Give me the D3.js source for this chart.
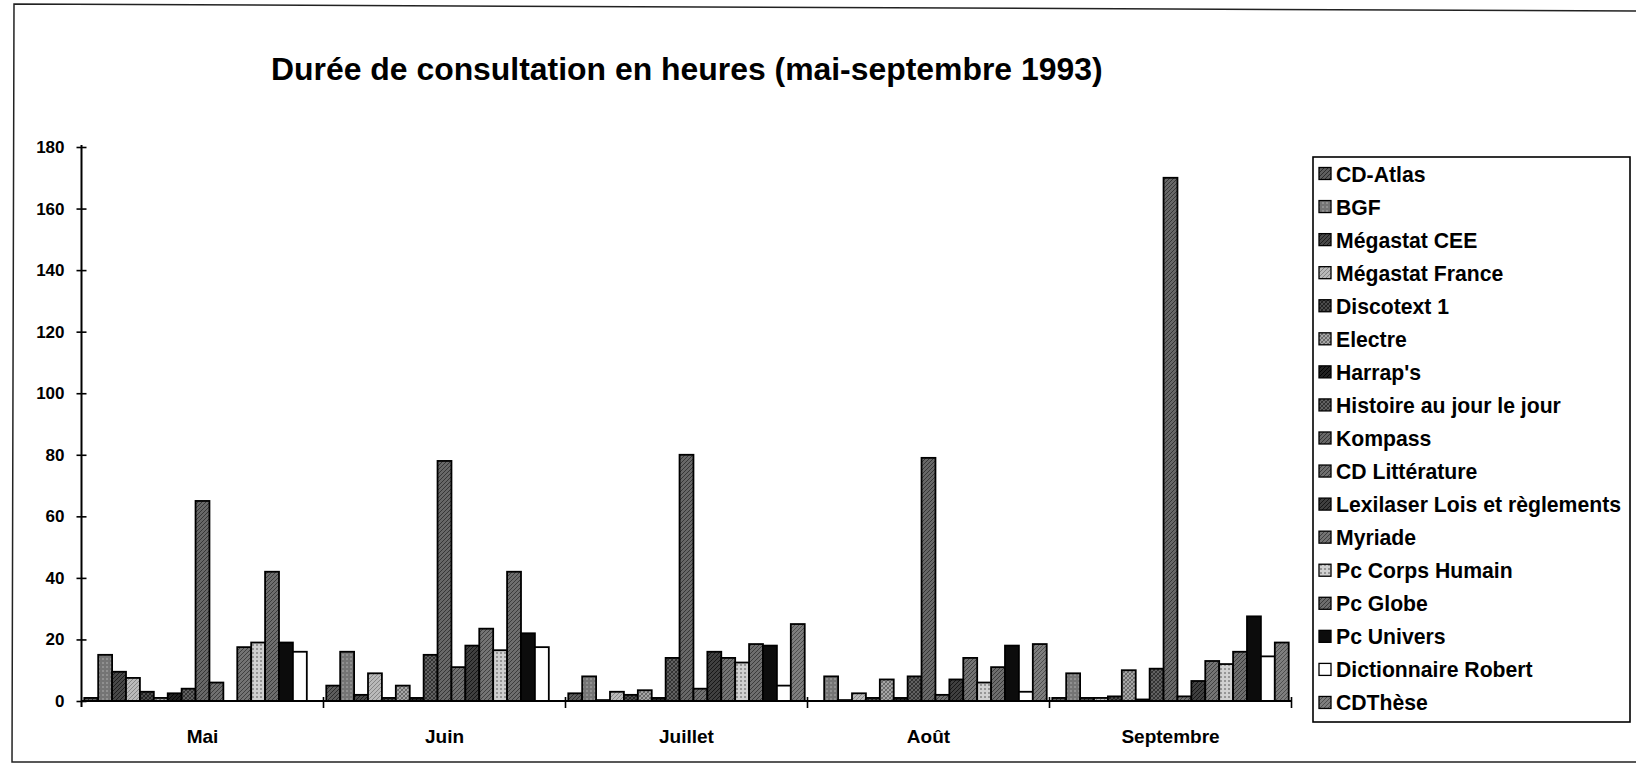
<!DOCTYPE html>
<html><head><meta charset="utf-8">
<script src="https://cdn.jsdelivr.net/npm/d3@7"></script>
<style>
body{margin:0;background:#fff}
svg{display:block}
text{font-family:"Liberation Sans",Arial,sans-serif;font-weight:bold;fill:#000}
</style>
</head><body>
<svg id="c" width="1636" height="765"></svg>
<script>
// ---------- data ----------
const title = "Durée de consultation en heures (mai-septembre 1993)";
const months = ["Mai", "Juin", "Juillet", "Août", "Septembre"];
const seriesNames = ["CD-Atlas", "BGF", "Mégastat CEE", "Mégastat France", "Discotext 1",
  "Electre", "Harrap's", "Histoire au jour le jour", "Kompass", "CD Littérature",
  "Lexilaser Lois et règlements", "Myriade", "Pc Corps Humain", "Pc Globe", "Pc Univers",
  "Dictionnaire Robert", "CDThèse"];
const cdAtlas        = [1, 5, 2.5, 0, 1];
const bgf            = [15, 16, 8, 8, 9];
const megastatCEE    = [9.5, 2, 0.3, 0.3, 1];
const megastatFrance = [7.5, 9, 3, 2.5, 1];
const discotext1     = [3, 1, 2, 1, 1.5];
const electre        = [1, 5, 3.5, 7, 10];
const harraps        = [2.5, 1, 1, 1, 0.5];
const histoire       = [4, 15, 14, 8, 10.5];
const kompass        = [65, 78, 80, 79, 170];
const cdLitterature  = [6, 11, 4, 2, 1.5];
const lexilaser      = [0, 18, 16, 7, 6.5];
const myriade        = [17.5, 23.5, 14, 14, 13];
const pcCorpsHumain  = [19, 16.5, 12.5, 6, 12];
const pcGlobe        = [42, 42, 18.5, 11, 16];
const pcUnivers      = [19, 22, 18, 18, 27.5];
const dictRobert     = [16, 17.5, 5, 3, 14.5];
const cdThese        = [0, 0, 25, 18.5, 19];
const seriesValues = [cdAtlas, bgf, megastatCEE, megastatFrance, discotext1, electre, harraps,
  histoire, kompass, cdLitterature, lexilaser, myriade, pcCorpsHumain, pcGlobe, pcUnivers,
  dictRobert, cdThese];
const yTicks = [0, 20, 40, 60, 80, 100, 120, 140, 160, 180];

// ---------- styles (per series, same order) ----------
const styles = [
  {base:"#5e5e5e", pat:"diag",  ink:"#262626"},
  {base:"#909090", pat:"vert",  ink:"#4a4a4a"},
  {base:"#484848", pat:"diag",  ink:"#181818"},
  {base:"#bababa", pat:"diag",  ink:"#808080"},
  {base:"#4c4c4c", pat:"cross", ink:"#181818"},
  {base:"#a6a6a6", pat:"cross", ink:"#5e5e5e"},
  {base:"#222222", pat:"diag",  ink:"#000"},
  {base:"#626262", pat:"cross", ink:"#282828"},
  {base:"#686868", pat:"diag",  ink:"#303030"},
  {base:"#707070", pat:"diag",  ink:"#383838"},
  {base:"#404040", pat:"diag",  ink:"#111"},
  {base:"#747474", pat:"diag",  ink:"#3a3a3a"},
  {base:"#d0d0d0", pat:"dots",  ink:"#4a4a4a"},
  {base:"#6e6e6e", pat:"diag",  ink:"#363636"},
  {base:"#0c0c0c", pat:"none",  ink:"#000"},
  {base:"#ffffff", pat:"none",  ink:"#000"},
  {base:"#7e7e7e", pat:"diag",  ink:"#484848"}
];

const svg = d3.select("#c");
const defs = svg.append("defs");
styles.forEach((s, i) => {
  const p = defs.append("pattern").attr("id", "p" + i)
    .attr("patternUnits", "userSpaceOnUse").attr("width", 4).attr("height", 4);
  p.append("rect").attr("width", 4).attr("height", 4).attr("fill", s.base);
  if (s.pat === "diag" || s.pat === "cross")
    p.append("path").attr("d", "M-1,1 L1,-1 M0,4 L4,0 M3,5 L5,3").attr("stroke", s.ink).attr("stroke-width", 0.9);
  if (s.pat === "cross")
    p.append("path").attr("d", "M0,0 L4,4 M-1,3 L1,5 M3,-1 L5,1").attr("stroke", s.ink).attr("stroke-width", 0.7);
  if (s.pat === "vert")
    p.append("path").attr("d", "M1,0 L1,4 M3,0 L3,2").attr("stroke", s.ink).attr("stroke-width", 0.8);
  if (s.pat === "dots")
    p.append("circle").attr("cx", 1).attr("cy", 1).attr("r", 0.8).attr("fill", s.ink);
});
const fillOf = i => styles[i].pat === "none" ? styles[i].base : "url(#p" + i + ")";

// ---------- frame ----------
svg.append("path").attr("d", "M1636,11 L14,4 L12,762 L1636,762")
  .attr("fill", "none").attr("stroke", "#222").attr("stroke-width", 1.5);

// ---------- scales ----------
const x0 = d3.scaleBand().domain(months).range([81.5, 1291.5]).padding(0);
const x1 = d3.scaleBand().domain(seriesNames).range([0, x0.bandwidth()])
  .paddingInner(0).paddingOuter(0.2);
const y = d3.scaleLinear().domain([0, 180]).range([701, 147]);

// ---------- title ----------
const t = svg.append("text").attr("x", 271).attr("y", 80).attr("font-size", 30).text(title);
const tw = t.node().getComputedTextLength();
t.attr("font-size", 30 * 832 / tw);

// ---------- bars ----------
const g = svg.append("g");
months.forEach((m, mi) => {
  seriesNames.forEach((s, si) => {
    const v = seriesValues[si][mi];
    g.append("rect")
      .attr("x", x0(m) + x1(s))
      .attr("y", y(v))
      .attr("width", x1.bandwidth())
      .attr("height", y(0) - y(v))
      .attr("fill", fillOf(si))
      .attr("stroke", "#000").attr("stroke-width", 1.8);
  });
});

// ---------- y axis ----------
const yAxis = svg.append("g").attr("transform", "translate(81.5,0)")
  .call(d3.axisLeft(y).tickValues(yTicks).tickSize(5).tickPadding(12));
yAxis.select(".domain").remove();
yAxis.append("line").attr("x1", 0).attr("x2", 0).attr("y1", 145).attr("y2", 707)
  .attr("stroke", "#000").attr("stroke-width", 2);
yAxis.selectAll(".tick line").attr("x1", 5).attr("stroke", "#000").attr("stroke-width", 1.6);
yAxis.selectAll(".tick text").attr("font-size", 17).attr("font-family", '"Liberation Sans",Arial,sans-serif')
  .attr("font-weight", "bold").attr("fill", "#000");

// ---------- x axis ----------
const xAxis = svg.append("g").attr("transform", "translate(0,701)");
xAxis.append("line").attr("x1", 81.5).attr("x2", 1291.5).attr("y1", 0).attr("y2", 0)
  .attr("stroke", "#000").attr("stroke-width", 2.2);
const bounds = months.map(m => x0(m)).concat([x0.range()[1]]);
xAxis.selectAll("line.tk").data(bounds.slice(1)).join("line").attr("class", "tk")
  .attr("x1", d => d).attr("x2", d => d).attr("y1", -4).attr("y2", 7)
  .attr("stroke", "#000").attr("stroke-width", 1.6);
xAxis.selectAll("text.cat").data(months).join("text").attr("class", "cat")
  .attr("x", d => x0(d) + x0.bandwidth() / 2).attr("y", 42)
  .attr("text-anchor", "middle").attr("font-size", 19).text(d => d);

// ---------- legend ----------
const lg = svg.append("g");
lg.append("rect").attr("x", 1313).attr("y", 157).attr("width", 317).attr("height", 565)
  .attr("fill", "#fff").attr("stroke", "#000").attr("stroke-width", 1.6);
seriesNames.forEach((s, i) => {
  const cy = 174 + i * 33.06;
  lg.append("rect").attr("x", 1319).attr("y", cy - 6.5).attr("width", 12).attr("height", 12)
    .attr("fill", fillOf(i)).attr("stroke", "#000").attr("stroke-width", 1.3);
  lg.append("text").attr("x", 1336).attr("y", cy + 7.5).attr("font-size", 21.2).text(s);
});
</script>
</body></html>
